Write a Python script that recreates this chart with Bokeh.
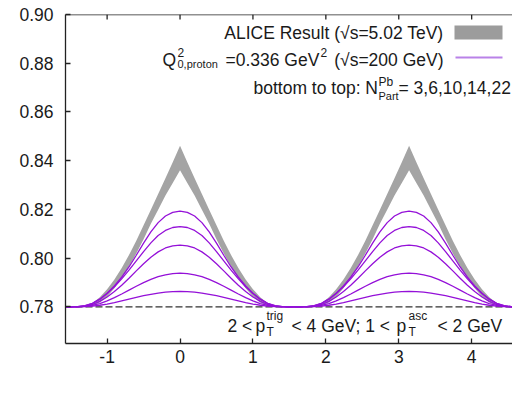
import math
from bokeh.plotting import figure
from bokeh.models import Label, BoxAnnotation, FixedTicker, Span, NumeralTickFormatter
from bokeh.embed import file_html
from bokeh.resources import INLINE

# ---- data ----
# distance from the peak centre (near side at 0, away side at pi); both peaks read as identical
offsets = [0.0, 0.1, 0.2, 0.3, 0.4, 0.5, 0.6, 0.7, 0.8, 0.9, 1.0, 1.1, 1.2, 1.3, 1.4, 1.5, 1.5708]
alice_upper = [0.8461, 0.8394, 0.8328, 0.8263, 0.8199, 0.8135, 0.8072, 0.8013, 0.7960, 0.7913,
               0.7873, 0.7840, 0.7816, 0.7804, 0.7801, 0.7800, 0.7800]
alice_lower = [0.8361, 0.8309, 0.8257, 0.8199, 0.8141, 0.8078, 0.8019, 0.7965, 0.7918, 0.7877,
               0.7843, 0.7818, 0.7805, 0.7801, 0.7800, 0.7800, 0.7800]
npart_22 = [0.8193, 0.8188, 0.8173, 0.8146, 0.8108, 0.8062, 0.8012, 0.7964, 0.7922, 0.7886,
            0.7856, 0.7832, 0.7815, 0.7805, 0.7801, 0.7800, 0.7800]
npart_14 = [0.8130, 0.8126, 0.8114, 0.8093, 0.8063, 0.8027, 0.7989, 0.7951, 0.7915, 0.7883,
            0.7855, 0.7832, 0.7815, 0.7805, 0.7801, 0.7800, 0.7800]
npart_10 = [0.8054, 0.8051, 0.8042, 0.8026, 0.8004, 0.7977, 0.7948, 0.7918, 0.7889, 0.7863,
            0.7841, 0.7823, 0.7810, 0.7803, 0.7801, 0.7800, 0.7800]
npart_6 = [0.7939, 0.7937, 0.7932, 0.7924, 0.7913, 0.7900, 0.7885, 0.7869, 0.7853, 0.7838,
           0.7825, 0.7814, 0.7806, 0.7802, 0.7801, 0.7800, 0.7800]
npart_3 = [0.7864, 0.7863, 0.7861, 0.7857, 0.7852, 0.7846, 0.7839, 0.7832, 0.7825, 0.7818,
           0.7812, 0.7807, 0.7803, 0.7801, 0.7800, 0.7800, 0.7800]
baseline = 0.78
x_ticks = [-1, 0, 1, 2, 3, 4]
y_ticks = [0.78, 0.80, 0.82, 0.84, 0.86, 0.88, 0.90]


def full_curve(profile):
    xs, ys = [], []
    for c in (0.0, math.pi):
        for d, v in zip(reversed(offsets), reversed(profile)):
            xs.append(c - d); ys.append(v)
        for d, v in zip(offsets[1:], profile[1:]):
            xs.append(c + d); ys.append(v)
    return xs, ys


# ---- layout ----
W, H = 512, 398
FL, FT, FB = 65, 14, 343
X0, X1 = -math.pi / 2, 4.56
Y0, Y1 = 0.765, 0.90


def px2x(px):
    return X0 + (px - FL) / (W - FL) * (X1 - X0)


def py2y(py):
    return Y1 - (py - FT) / (FB - FT) * (Y1 - Y0)


FONT = "Liberation Sans"
TXT = "#1a1a1a"
AX = "#222222"
BIG = "17.5px"
SMALL = "12px"

p = figure(width=W, height=H, x_range=(X0, X1), y_range=(Y0, Y1),
           output_backend="svg", toolbar_location=None,
           min_border_left=FL, min_border_right=0, min_border_top=FT, min_border_bottom=H - FB)
p.outline_line_color = None
p.background_fill_color = "white"
p.border_fill_color = "white"
p.xgrid.visible = False
p.ygrid.visible = False

for ax in (p.xaxis[0], p.yaxis[0]):
    ax.major_tick_in = 5
    ax.major_tick_out = 0
    ax.minor_tick_in = 0
    ax.minor_tick_out = 0
    ax.axis_line_color = AX
    ax.axis_line_width = 1.3
    ax.major_tick_line_color = AX
    ax.major_tick_line_width = 1.3
    ax.major_label_text_font = FONT
    ax.major_label_text_font_size = BIG
    ax.major_label_text_color = TXT
    ax.major_label_text_font_style = "normal"

p.xaxis.ticker = FixedTicker(ticks=x_ticks)
p.xaxis.major_label_overrides = {t: str(t) for t in x_ticks}
p.xaxis.major_label_standoff = 6
p.yaxis.ticker = FixedTicker(ticks=y_ticks)
p.yaxis.formatter = NumeralTickFormatter(format="0.00")
p.yaxis.major_label_standoff = 12

# top border with inward ticks (mirror of the bottom axis)
p.add_layout(Span(location=Y1, dimension="width", line_color=AX, line_width=1.3))
p.segment(x0=x_ticks, x1=x_ticks, y0=[Y1] * len(x_ticks), y1=[py2y(FT + 5)] * len(x_ticks),
          line_color=AX, line_width=1.3)

p.add_layout(Span(location=baseline, dimension="width", line_color="#333333",
                  line_width=1.2, line_dash="7 3", level="underlay"))

xa, ua = full_curve(alice_upper)
_, la = full_curve(alice_lower)
p.varea(x=xa, y1=la, y2=ua, fill_color="#a4a4a4")

PURPLE = "#9410d8"
for prof in (npart_3, npart_6, npart_10, npart_14, npart_22):
    xs, ys = full_curve(prof)
    p.line(xs, ys, line_color=PURPLE, line_width=1.3)


def lab(px, py, text, size=BIG, align="left"):
    p.add_layout(Label(x=px2x(px), y=py2y(py), text=text, text_font=FONT, text_font_size=size,
                       text_color=TXT, text_align=align, text_baseline="middle"))


# legend line 1
lab(443, 32, "ALICE Result (\u221as=5.02 TeV)", align="right")
p.add_layout(BoxAnnotation(left=px2x(454), right=px2x(502), top=py2y(25), bottom=py2y(39),
                           fill_color="#9c9c9c", fill_alpha=1, line_color=None))
# legend line 2
lab(162, 59, "Q")
lab(177, 51.5, "2", SMALL)
lab(177, 63.5, "0,proton", "11px")
lab(225, 59, "=0.336 GeV")
lab(320, 51.5, "2", SMALL)
lab(443, 59, "(\u221as=200 GeV)", align="right")
p.add_layout(BoxAnnotation(left=px2x(455), right=px2x(502), top=py2y(56), bottom=py2y(58),
                           fill_color="#b982e8", fill_alpha=1, line_color=None))
# legend line 3
lab(253, 87, "bottom to top: N")
lab(378, 81, "Pb", SMALL)
lab(378, 95, "Part", "11px")
lab(398, 87, "= 3,6,10,14,22")
# kinematic cuts
lab(227, 325, "2 <")
lab(255, 325, "p")
lab(266, 315, "trig", SMALL)
lab(266, 331, "T", SMALL)
lab(291, 325, "< 4 GeV; 1 <")
lab(396, 325, "p")
lab(408, 315, "asc", SMALL)
lab(408, 331, "T", SMALL)
lab(437, 325, "< 2 GeV")
# x axis title
p.add_layout(Label(x=math.pi / 2, y=py2y(389), text="\u0394\u03c6", text_font=FONT,
                   text_font_size=BIG, text_color=TXT, text_align="center", text_baseline="middle"))

open("out.html", "w").write(file_html(p, INLINE))
